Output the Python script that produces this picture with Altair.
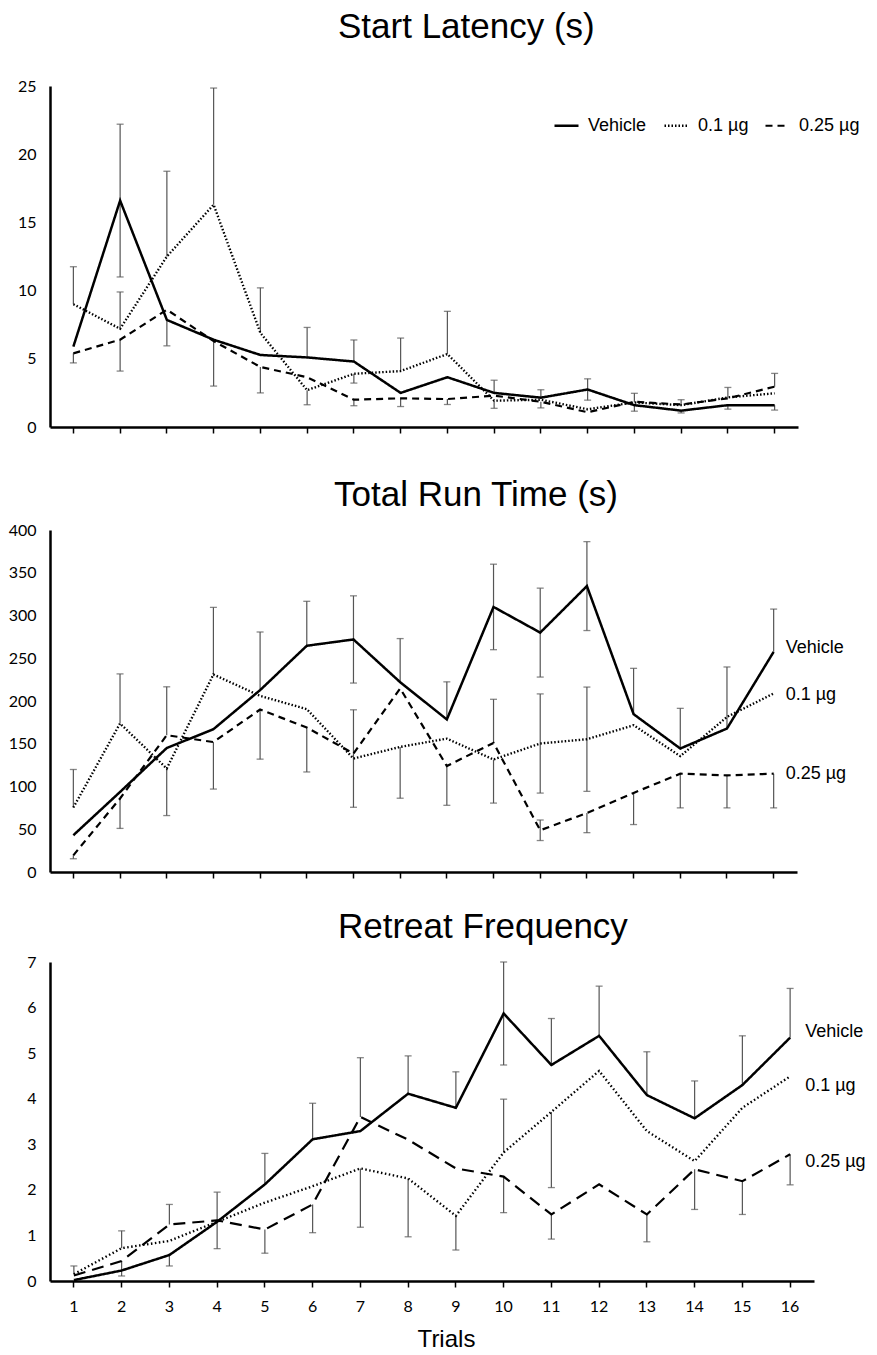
import altair as alt
import pandas as pd

trials = list(range(1, 17))
series = ["Vehicle", "0.1 µg", "0.25 µg"]

# ---- Start Latency (s)
lat_vehicle = [5.9, 16.6, 7.85, 6.4, 5.28, 5.1, 4.8, 2.5, 3.65, 2.5, 2.15, 2.75, 1.6, 1.2, 1.6, 1.6]
lat_vehicle_up = [0, 5.6, 0, 0, 0, 2.2, 1.58, 0, 0, 0.93, 0.58, 0.78, 0, 0, 0, 0]
lat_vehicle_dn = [0, 5.6, 1.9, 3.4, 0, 0, 0, 0, 0, 0, 0, 0.78, 0.44, 0.17, 0.29, 0.36]
lat_01 = [9.0, 7.2, 12.5, 16.3, 6.9, 2.7, 3.9, 4.1, 5.35, 1.93, 2.0, 1.3, 1.8, 1.6, 2.17, 2.47]
lat_01_up = [2.75, 2.7, 6.25, 8.55, 3.3, 0, 0, 2.42, 3.13, 0, 0, 0, 0.67, 0.4, 0.73, 0]
lat_01_dn = [0, 0, 0, 0, 0, 1.07, 0.68, 0, 0, 0.56, 0, 0, 0, 0, 0, 0]
lat_025 = [5.4, 6.4, 8.6, 6.3, 4.4, 3.65, 2.0, 2.1, 2.05, 2.3, 1.85, 1.08, 1.85, 1.65, 2.1, 2.96]
lat_025_up = [0, 0, 0, 0, 0, 0, 0, 0, 0, 0, 0, 0, 0, 0, 0, 0.97]
lat_025_dn = [0.7, 2.3, 0, 0, 1.9, 0, 0.44, 0.6, 0.4, 0, 0.45, 0, 0, 0, 0, 0]

# ---- Total Run Time (s)
run_vehicle = [43, 93.6, 145, 167, 212.7, 264.6, 272, 222, 178.4, 310, 280, 334.4, 184.6, 144.4, 167.8, 257.5]
run_vehicle_up = [0, 0, 0, 0, 68, 52, 51, 51, 44, 50, 52, 52, 53.6, 47, 72, 50]
run_vehicle_dn = [0, 0, 0, 0, 0, 0, 51, 0, 0, 50, 52, 52, 0, 0, 0, 0]
run_01 = [75.4, 173.7, 121, 231, 206, 190.5, 132.7, 146.3, 156, 131.6, 150.3, 155.3, 171.7, 135.5, 181.4, 208.8]
run_01_up = [44.5, 58, 0, 78.5, 0, 0, 57, 0, 0, 0, 58, 61, 0, 0, 0, 0]
run_01_dn = [0, 0, 55, 0, 0, 0, 57, 60, 0, 51, 58, 61, 0, 0, 0, 0]
run_025 = [19.5, 86, 160, 152, 190, 169, 138.6, 214.7, 124, 151, 48.8, 69, 92.5, 115, 113, 115]
run_025_up = [0, 0, 56.6, 0, 0, 0, 0, 0, 0, 51, 12, 0, 0, 0, 0, 0]
run_025_dn = [4, 35, 0, 55, 58, 52, 0, 0, 46, 0, 12, 23, 37, 40, 38, 40]

# ---- Retreat Frequency
ret_vehicle = [0.02, 0.23, 0.57, 1.3, 2.12, 3.11, 3.29, 4.11, 3.8, 5.87, 4.74, 5.38, 4.08, 3.57, 4.3, 5.34]
ret_vehicle_up = [0, 0, 0, 0, 0.68, 0.79, 0, 0.83, 0.79, 1.13, 1.02, 1.09, 0.95, 0.82, 1.08, 1.08]
ret_vehicle_dn = [0, 0, 0.24, 0, 0, 0, 0, 0, 0, 1.13, 0, 0, 0, 0, 0, 0]
ret_01 = [0.15, 0.72, 0.88, 1.3, 1.72, 2.08, 2.47, 2.25, 1.43, 2.82, 3.71, 4.61, 3.29, 2.63, 3.8, 4.49]
ret_01_up = [0.18, 0.38, 0, 0, 0, 0, 0, 0, 0, 1.17, 0, 0, 0, 0, 0, 0]
ret_01_dn = [0, 0, 0, 0, 0, 0, 1.29, 1.28, 0.75, 0, 1.66, 0, 0, 0, 0, 0]
ret_025 = [0.12, 0.44, 1.24, 1.33, 1.13, 1.68, 3.6, 3.1, 2.47, 2.29, 1.46, 2.12, 1.46, 2.45, 2.19, 2.78]
ret_025_up = [0, 0, 0.44, 0.62, 0, 0, 1.3, 0, 0, 0, 0, 0, 0, 0, 0, 0]
ret_025_dn = [0, 0.33, 0, 0.62, 0.52, 0.62, 0, 0, 0, 0.79, 0.54, 0, 0.6, 0.88, 0.73, 0.67]

TITLE_FONT = "Liberation Sans"
ERR_COLOR = "#555555"


def frames(vals, ups, dns):
    rows, err, caps = [], [], []
    for s, v, u, d in zip(series, vals, ups, dns):
        for t, vi, ui, di in zip(trials, v, u, d):
            rows.append(dict(trial=t, series=s, value=vi))
            if ui > 0 or di > 0:
                err.append(dict(trial=t, series=s, lo=vi - di, hi=vi + ui))
            if ui > 0:
                caps.append(dict(trial=t, series=s, cap=vi + ui))
            if di > 0:
                caps.append(dict(trial=t, series=s, cap=vi - di))
    return pd.DataFrame(rows), pd.DataFrame(err), pd.DataFrame(caps)


def panel(vals, ups, dns, title, tdx, toffset, ymax, ystep, width, height,
          dash, xaxis, legend=None, label_dx=None, label_dys=None):
    lines, err, caps = frames(vals, ups, dns)
    x = alt.X("trial:O", scale=alt.Scale(domain=trials), axis=xaxis)
    yscale = alt.Scale(domain=[0, ymax], nice=False, zero=True)
    yaxis = alt.Axis(values=list(range(0, ymax + 1, ystep)), title=None, grid=False,
                     ticks=False, labelPadding=14, domainWidth=2.5)
    rules = alt.Chart(err).mark_rule(color=ERR_COLOR, strokeWidth=1.2).encode(
        x=x, y=alt.Y("lo:Q", scale=yscale, axis=yaxis), y2="hi:Q")
    capm = alt.Chart(caps).mark_tick(color=ERR_COLOR, thickness=1.3, size=7).encode(
        x=x, y=alt.Y("cap:Q", scale=yscale, axis=yaxis))
    line = alt.Chart(lines).mark_line(color="black").encode(
        x=x,
        y=alt.Y("value:Q", scale=yscale, axis=yaxis),
        strokeDash=alt.StrokeDash("series:N", scale=alt.Scale(domain=series, range=dash),
                                  legend=legend),
        strokeWidth=alt.StrokeWidth("series:N", scale=alt.Scale(domain=series, range=[2.5, 2.2, 2.5]),
                                    legend=None),
    )
    layers = [rules, capm, line]
    if label_dx is not None:
        last = lines[lines.trial == trials[-1]]
        for s, dy in zip(series, label_dys):
            layers.append(
                alt.Chart(last[last.series == s]).mark_text(
                    align="left", baseline="middle", dx=label_dx, dy=dy,
                    font=TITLE_FONT, fontSize=18, color="black").encode(
                    x=x, y=alt.Y("value:Q", scale=yscale, axis=yaxis), text="series:N")
            )
    return alt.layer(*layers).properties(
        width=width, height=height,
        title=alt.TitleParams(title, dx=tdx, offset=toffset),
    )


legend1 = alt.Legend(orient="none", legendX=503, legendY=26, direction="horizontal", title=None,
                     labelFont=TITLE_FONT, labelFontSize=18, labelColor="black",
                     symbolType="stroke", symbolSize=576, symbolStrokeWidth=2.5,
                     symbolStrokeColor="black", labelOffset=8, columnPadding=12)

x1 = alt.Axis(title=None, labelOpacity=0, labelFontSize=12, labelPadding=4, tickSize=6,
              tickWidth=1.5, labelAngle=0, domainWidth=2.5)
x2 = alt.Axis(title=None, labels=False, tickSize=6, tickWidth=1.5, domainWidth=2.5)
x3 = alt.Axis(title="Trials", labelAngle=0, tickSize=6, tickWidth=1.5, labelPadding=11,
              domainWidth=2.5, titleFont=TITLE_FONT, titleFontSize=24, titleFontWeight="normal",
              titleColor="black", titlePadding=13, titleX=396)

p1 = panel([lat_vehicle, lat_01, lat_025], [lat_vehicle_up, lat_01_up, lat_025_up],
           [lat_vehicle_dn, lat_01_dn, lat_025_dn], "Start Latency (s)", 288, 33,
           25, 5, 748, 341, [[1, 0], [1.5, 2], [7, 5]], x1, legend=legend1)
p2 = panel([run_vehicle, run_01, run_025], [run_vehicle_up, run_01_up, run_025_up],
           [run_vehicle_dn, run_01_dn, run_025_dn], "Total Run Time (s)", 284, 9,
           400, 50, 747, 342, [[1, 0], [1.5, 2], [7, 5]], x2,
           label_dx=12, label_dys=[-4, 2, 0])
p3 = panel([ret_vehicle, ret_01, ret_025], [ret_vehicle_up, ret_01_up, ret_025_up],
           [ret_vehicle_dn, ret_01_dn, ret_025_dn], "Retreat Frequency", 288, 9,
           7, 1, 764, 319, [[1, 0], [1.5, 2.5], [12, 7]], x3,
           label_dx=15, label_dys=[-6, 10, 8])

chart = alt.vconcat(p1, p2, p3, spacing=30).resolve_scale(
    strokeDash="independent", strokeWidth="independent"
).resolve_legend(strokeDash="independent", strokeWidth="independent").properties(
    padding={"left": 0, "top": 2, "right": 0, "bottom": 0}
).configure_view(stroke=None).configure_axis(
    domainColor="black", labelFont="Lato", labelFontSize=16, labelColor="black",
    tickColor="black", grid=False
).configure_title(
    font=TITLE_FONT, fontSize=35, fontWeight="normal", color="black", anchor="start", frame="group"
)

chart.save("out.html", embed_options={"renderer": "svg", "actions": False})
